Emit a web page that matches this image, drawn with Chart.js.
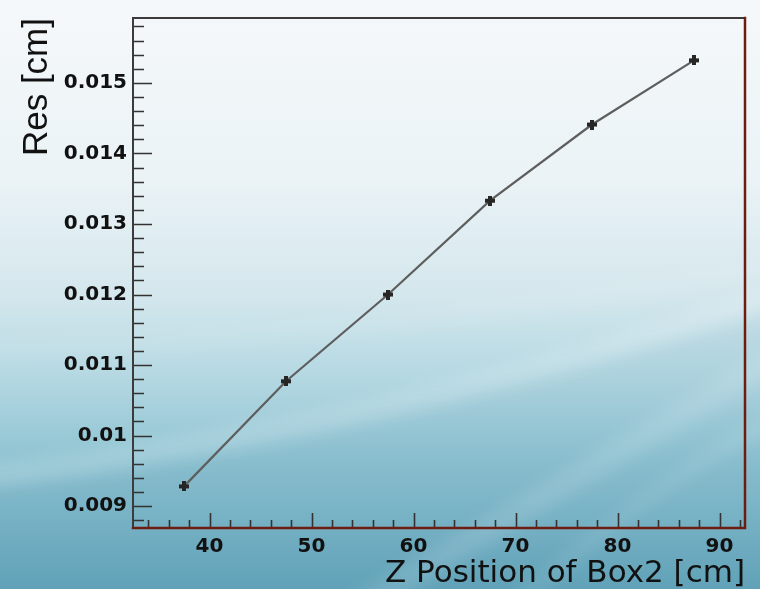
<!DOCTYPE html>
<html>
<head>
<meta charset="utf-8">
<script src="https://cdn.jsdelivr.net/npm/chart.js@4/dist/chart.umd.min.js"></script>
<style>
  html, body { margin: 0; padding: 0; background: #f3f7f9; }
  #wrap { width: 760px; height: 589px; }
  canvas { display: block; }
</style>
</head>
<body>
<div id="wrap"><canvas id="chart" width="760" height="589"></canvas></div>
<script>
// Resolution versus the z position of the second box
const zPositions = [37.5, 47.5, 57.5, 67.5, 77.5, 87.5];
const resolution = [0.00928, 0.01077, 0.01200, 0.01333, 0.01441, 0.01532];

// Axis ticks and ranges
const xTickValues = [40, 50, 60, 70, 80, 90];
const xTickLabels = ['40', '50', '60', '70', '80', '90'];
const yTickValues = [0.009, 0.010, 0.011, 0.012, 0.013, 0.014, 0.015];
const yTickLabels = ['0.009', '0.01', '0.011', '0.012', '0.013', '0.014', '0.015'];
const xRange = [32.5, 92.5];
const yRange = [0.00869, 0.01592];
const xMinorStep = 2;
const yMinorStep = 0.0002;

// Filled plus-shaped marker
function plusMarker(size, arm, color) {
  const c = document.createElement('canvas');
  c.width = size; c.height = size;
  const g = c.getContext('2d');
  g.fillStyle = color;
  const o = (size - arm) / 2;
  g.fillRect(o, 0, arm, size);
  g.fillRect(0, o, size, arm);
  return c;
}

// Slide-style backdrop: pale top fading into teal with soft light swooshes
const backdrop = {
  id: 'backdrop',
  beforeDraw(chart) {
    const { ctx, width: w, height: h } = chart;
    ctx.save();
    const g = ctx.createLinearGradient(0, 0, 0, h);
    g.addColorStop(0.00, '#f5f8fa');
    g.addColorStop(0.30, '#ebf3f6');
    g.addColorStop(0.50, '#d4e7ed');
    g.addColorStop(0.64, '#b4d8e2');
    g.addColorStop(0.78, '#8fc3d2');
    g.addColorStop(1.00, '#64a5bb');
    ctx.fillStyle = g;
    ctx.fillRect(0, 0, w, h);

    ctx.filter = 'blur(8px)';
    // slightly darker sweep under the lower swoosh
    ctx.fillStyle = 'rgba(50,120,150,0.06)';
    ctx.beginPath();
    ctx.moveTo(-40, 490);
    ctx.quadraticCurveTo(380, 430, w + 40, 300);
    ctx.lineTo(w + 40, h + 40); ctx.lineTo(-40, h + 40); ctx.closePath();
    ctx.fill();

    // light swoosh bands
    const band = (x0, y0, cx, cy, x1, y1, t, a) => {
      ctx.fillStyle = 'rgba(255,255,255,' + a + ')';
      ctx.beginPath();
      ctx.moveTo(x0, y0);
      ctx.quadraticCurveTo(cx, cy, x1, y1);
      ctx.lineTo(x1, y1 + t);
      ctx.quadraticCurveTo(cx, cy + t, x0, y0 + t);
      ctx.closePath();
      ctx.fill();
    };
    band(-40, 468, 380, 420, w + 40, 276, 24, 0.18);
    band(-40, 338, 380, 330, w + 40, 250, 22, 0.08);
    band(300, h + 40, 560, 470, w + 40, 330, 30, 0.13);
    band(480, h + 40, 660, 460, w + 40, 400, 18, 0.10);
    ctx.restore();
  }
};

// Inward tick marks and the plot frame
const frame = {
  id: 'frame',
  afterDatasetsDraw(chart) {
    const { ctx, chartArea: a, scales: { x, y } } = chart;
    ctx.save();
    ctx.strokeStyle = '#333';
    ctx.lineWidth = 1.6;
    ctx.beginPath();
    const yStart = Math.ceil(y.min / yMinorStep - 1e-6);
    for (let k = yStart; k * yMinorStep <= y.max + 1e-12; k++) {
      const v = k * yMinorStep;
      const major = k % 5 === 0;
      const py = Math.round(y.getPixelForValue(v)) + 0.5;
      ctx.moveTo(a.left, py);
      ctx.lineTo(a.left + (major ? 19 : 11), py);
    }
    const xStart = Math.ceil(x.min / xMinorStep - 1e-6);
    for (let k = xStart; k * xMinorStep <= x.max + 1e-9; k++) {
      const v = k * xMinorStep;
      const major = k % 5 === 0;
      const px = Math.round(x.getPixelForValue(v)) + 0.5;
      ctx.moveTo(px, a.bottom);
      ctx.lineTo(px, a.bottom - (major ? 15 : 8));
    }
    ctx.stroke();

    ctx.lineCap = 'square';
    ctx.lineWidth = 2;
    ctx.strokeStyle = '#3b3b3b';
    ctx.beginPath();
    ctx.moveTo(a.left, a.bottom); ctx.lineTo(a.left, a.top); ctx.lineTo(a.right, a.top);
    ctx.stroke();
    ctx.strokeStyle = '#6f1c10';
    ctx.lineWidth = 2.5;
    ctx.beginPath();
    ctx.moveTo(a.right, a.top); ctx.lineTo(a.right, a.bottom); ctx.lineTo(a.left, a.bottom);
    ctx.stroke();
    ctx.restore();
  }
};

const tickFont = { family: 'DejaVu Sans', weight: 'bold', size: 20 };

new Chart(document.getElementById('chart'), {
  type: 'line',
  data: {
    datasets: [{
      data: zPositions.map((z, i) => ({ x: z, y: resolution[i] })),
      borderColor: '#5e5e5e',
      borderWidth: 2.2,
      pointStyle: plusMarker(10, 4, '#262626'),
      pointRadius: 5,
      tension: 0,
      fill: false
    }]
  },
  options: {
    responsive: false,
    animation: false,
    devicePixelRatio: 1,
    layout: { padding: { top: 14, right: 15, left: 0, bottom: 0 } },
    plugins: { legend: { display: false }, tooltip: { enabled: false } },
    scales: {
      x: {
        type: 'linear',
        min: xRange[0],
        max: xRange[1],
        grid: { display: false, drawTicks: false, tickLength: 0 },
        border: { display: false },
        afterBuildTicks: s => { s.ticks = xTickValues.map(v => ({ value: v })); },
        afterFit: s => { s.height = 61; },
        ticks: {
          color: '#111',
          font: tickFont,
          padding: 7,
          maxRotation: 0,
          autoSkip: false,
          callback: v => {
            const i = xTickValues.findIndex(t => Math.abs(t - v) < 1e-9);
            return i >= 0 ? xTickLabels[i] : '';
          }
        },
        title: {
          display: true,
          text: 'Z Position of Box2 [cm]',
          align: 'end',
          color: '#111',
          font: { family: 'DejaVu Sans', size: 31, lineHeight: 1 },
          padding: { top: 0, bottom: 0 }
        }
      },
      y: {
        type: 'linear',
        min: yRange[0],
        max: yRange[1],
        grid: { display: false, drawTicks: false, tickLength: 0 },
        border: { display: false },
        afterBuildTicks: s => { s.ticks = yTickValues.map(v => ({ value: v })); },
        afterFit: s => { s.width = 133; },
        ticks: {
          color: '#111',
          font: tickFont,
          padding: 6,
          autoSkip: false,
          callback: v => {
            const i = yTickValues.findIndex(t => Math.abs(t - v) < 1e-9);
            return i >= 0 ? yTickLabels[i] : '';
          }
        },
        title: {
          display: true,
          text: 'Res [cm]',
          align: 'end',
          color: '#111',
          font: { family: 'Liberation Sans', size: 35, lineHeight: 1 },
          padding: { top: 20, bottom: 0 }
        }
      }
    }
  },
  plugins: [backdrop, frame]
});
</script>
</body>
</html>
